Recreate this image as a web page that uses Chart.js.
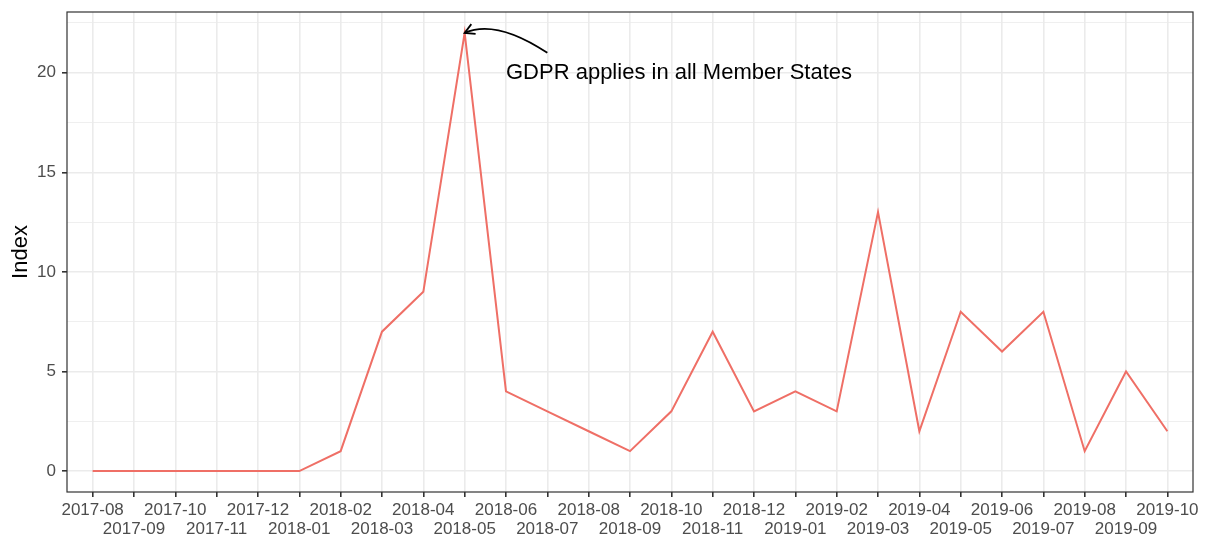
<!DOCTYPE html>
<html>
<head>
<meta charset="utf-8">
<script src="https://cdn.jsdelivr.net/npm/chart.js@4.4.1/dist/chart.umd.min.js"></script>
<style>
  body { margin: 0; background: #fff; }
  #wrap { width: 1210px; height: 540px; }
</style>
</head>
<body>
<div id="wrap"><canvas id="myChart" width="1210" height="540"></canvas></div>
<script>
const months = ['2017-08','2017-09','2017-10','2017-11','2017-12','2018-01','2018-02','2018-03',
  '2018-04','2018-05','2018-06','2018-07','2018-08','2018-09','2018-10','2018-11','2018-12',
  '2019-01','2019-02','2019-03','2019-04','2019-05','2019-06','2019-07','2019-08','2019-09','2019-10']
const index = [0,0,0,0,0,0,1,7,9,22,4,3,2,1,3,7,3,4,3,13,2,8,6,8,1,5,2]
const yTicks = [0,2.5,5,7.5,10,12.5,15,17.5,20,22.5]

const note = { text: 'GDPR applies in all Member States', at: '2018-05', textX: 10, textY: 20, fromX: 11, fromY: 21 }

const font = "'Liberation Sans', Arial, sans-serif"

// panel border + curved arrow annotation
const extras = {
    id: 'extras',
    afterDraw(chart) {
        const c = chart.ctx
        const a = chart.chartArea
        const x = chart.scales.x, y = chart.scales.y
        c.save()
        c.strokeStyle = '#333333'
        c.lineWidth = 1.2
        c.strokeRect(a.left, a.top, a.right - a.left, a.bottom - a.top)

        const i = months.indexOf(note.at)
        const ex = x.getPixelForValue(i), ey = y.getPixelForValue(index[i])
        const sx = x.getPixelForValue(note.fromX), sy = y.getPixelForValue(note.fromY)
        const cx = (sx + ex) / 2 - 10, cy = Math.min(sy, ey) - 14
        c.strokeStyle = '#000'
        c.lineWidth = 1.8
        c.beginPath()
        c.moveTo(sx, sy)
        c.quadraticCurveTo(cx, cy, ex, ey)
        c.stroke()
        const ang = Math.atan2(ey - cy, ex - cx)
        const len = 11
        c.beginPath()
        c.moveTo(ex - len * Math.cos(ang - 0.5), ey - len * Math.sin(ang - 0.5))
        c.lineTo(ex, ey)
        c.lineTo(ex - len * Math.cos(ang + 0.5), ey - len * Math.sin(ang + 0.5))
        c.stroke()

        c.fillStyle = '#000'
        c.font = '22px ' + font
        c.textAlign = 'left'
        c.textBaseline = 'middle'
        c.fillText(note.text, x.getPixelForValue(note.textX), y.getPixelForValue(note.textY))
        c.restore()
    }
}

const data = {
    datasets: [{
        label: 'Index',
        data: index.map((v, i) => ({ x: i, y: v })),
        borderColor: '#EF6F66',
        borderWidth: 2,
        pointRadius: 0,
        tension: 0,
        fill: false
    }]
}

const config = {
    type: 'line',
    data: data,
    plugins: [extras],
    options: {
        responsive: false,
        animation: false,
        devicePixelRatio: 1,
        layout: { padding: { top: 12, right: 17, left: 0, bottom: 0 } },
        plugins: {
            legend: { display: false },
            tooltip: { enabled: false }
        },
        scales: {
            x: {
                type: 'linear',
                min: -0.62,
                max: 26.62,
                afterBuildTicks: s => { s.ticks = months.map((m, i) => ({ value: i })) },
                afterFit: s => { s.height = 48; s.paddingLeft = 0; s.paddingRight = 0 },
                border: { display: false },
                grid: { color: '#EBEBEB', lineWidth: 1.6, tickColor: '#333333', tickLength: 5 },
                ticks: {
                    autoSkip: false,
                    maxRotation: 0,
                    padding: 4,
                    color: '#4D4D4D',
                    font: { family: font, size: 17, lineHeight: 1.12 },
                    callback: (v, i) => i % 2 === 0 ? [months[i], ''] : ['', months[i]]
                }
            },
            y: {
                min: -1.05,
                max: 23.05,
                afterBuildTicks: s => { s.ticks = yTicks.map(v => ({ value: v })) },
                afterFit: s => { s.width = 67; s.paddingTop = 0; s.paddingBottom = 0 },
                border: { display: false },
                grid: {
                    color: '#EBEBEB',
                    lineWidth: ctx => ctx.tick && ctx.tick.value % 5 === 0 ? 1.6 : 0.8,
                    tickColor: ctx => ctx.tick && ctx.tick.value % 5 === 0 ? '#333333' : 'rgba(0,0,0,0)',
                    tickLength: 5
                },
                ticks: {
                    padding: 6,
                    color: '#4D4D4D',
                    font: { family: font, size: 17 },
                    callback: v => v % 5 === 0 ? v : ''
                },
                title: {
                    display: true,
                    text: 'Index',
                    color: '#000',
                    font: { family: font, size: 22 },
                    padding: { top: 8, bottom: 0 }
                }
            }
        }
    }
}
new Chart(document.getElementById('myChart'), config)
</script>
</body>
</html>
